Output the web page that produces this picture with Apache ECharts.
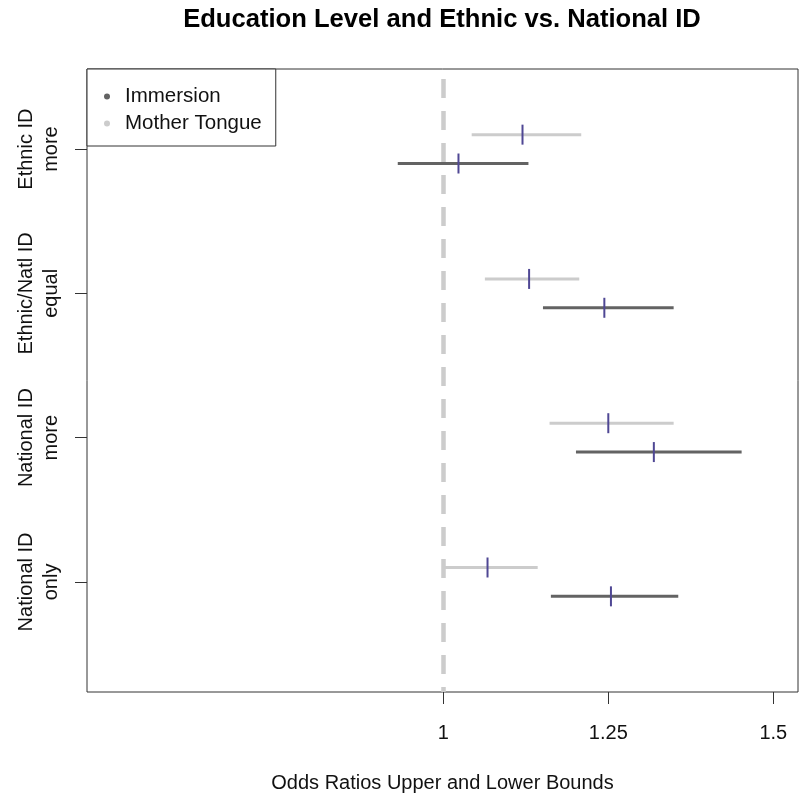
<!DOCTYPE html>
<html>
<head>
<meta charset="utf-8">
<script src="https://cdn.jsdelivr.net/npm/echarts@6/dist/echarts.min.js"></script>
<style>
html,body{margin:0;padding:0;background:#fff;}
#chart{width:801px;height:804px;}
</style>
</head>
<body>
<div id="chart"></div>
<script>
// Category labels (bottom to top, at y positions 1..4)
const categories = ["National ID\nonly", "National ID\nmore", "Ethnic/Natl ID\nequal", "Ethnic ID\nmore"];
const categoryPos = [1, 2, 3, 4];

// Immersion: lower bound, estimate, upper bound
const immLow  = [1.163, 1.201, 1.151, 0.931];
const immEst  = [1.254, 1.319, 1.244, 1.023];
const immHigh = [1.356, 1.452, 1.349, 1.129];

// Mother Tongue: lower bound, estimate, upper bound
const mtLow  = [1.001, 1.161, 1.063, 1.043];
const mtEst  = [1.067, 1.250, 1.130, 1.120];
const mtHigh = [1.143, 1.349, 1.206, 1.209];

const xTicks = [1, 1.25, 1.5];
const refValue = 1;

const FONT = "'Liberation Sans', Arial, sans-serif";
const IMM_COLOR = '#636363';
const MT_COLOR = '#cccccc';
const EST_COLOR = '#4f4794';

function rows(lo, est, hi) {
  return categoryPos.map((p, i) => [p, lo[i], est[i], hi[i]]);
}

function makeRender(offset, color) {
  return function (params, api) {
    const y = api.value(0) + offset;
    const a = api.coord([api.value(1), y]);
    const m = api.coord([api.value(2), y]);
    const b = api.coord([api.value(3), y]);
    return {
      type: 'group',
      children: [
        { type: 'line', shape: { x1: a[0], y1: a[1], x2: b[0], y2: b[1] },
          style: { stroke: color, lineWidth: 3 } },
        { type: 'line', shape: { x1: m[0], y1: m[1] - 10, x2: m[0], y2: m[1] + 10 },
          style: { stroke: EST_COLOR, lineWidth: 2 } }
      ]
    };
  };
}

const chart = echarts.init(document.getElementById('chart'), null, { renderer: 'canvas' });
chart.setOption({
  animation: false,
  backgroundColor: '#ffffff',
  title: {
    text: 'Education Level and Ethnic vs. National ID',
    left: 437, top: 2, textAlign: 'center',
    textStyle: { fontFamily: FONT, fontSize: 25.6, fontWeight: 'bold', color: '#000' }
  },
  legend: {
    orient: 'vertical', left: 87, top: 69,
    padding: [17, 14, 12, 17], itemGap: 6,
    itemWidth: 26, itemHeight: 6,
    borderColor: '#333', borderWidth: 1, borderRadius: 0,
    backgroundColor: '#fff',
    textStyle: { fontFamily: FONT, fontSize: 20.5, color: '#111' },
    data: [{ name: 'Immersion', icon: 'circle' }, { name: 'Mother Tongue', icon: 'circle' }]
  },
  grid: {
    left: 87, right: 3, top: 69, bottom: 112,
    show: true, borderColor: '#333', borderWidth: 1, backgroundColor: 'transparent'
  },
  xAxis: {
    type: 'value', min: 0.46015, max: 1.53742,
    splitLine: { show: false },
    axisLine: { show: false },
    axisTick: { show: true, length: 12, customValues: xTicks, lineStyle: { color: '#333' } },
    axisLabel: { customValues: xTicks, margin: 31, fontFamily: FONT, fontSize: 20, color: '#111',
      formatter: v => String(v) },
    name: 'Odds Ratios Upper and Lower Bounds',
    nameLocation: 'middle', nameGap: 91,
    nameTextStyle: { fontFamily: FONT, fontSize: 20, color: '#111', verticalAlign: 'middle' }
  },
  yAxis: {
    type: 'value', min: 0.237, max: 4.555,
    splitLine: { show: false },
    axisLine: { show: false },
    axisTick: { show: true, length: 12, customValues: categoryPos, lineStyle: { color: '#333' } },
    axisLabel: {
      customValues: categoryPos, rotate: 90, margin: 48,
      align: 'center', verticalAlign: 'middle', lineHeight: 25,
      fontFamily: FONT, fontSize: 20, color: '#111',
      formatter: v => categories[categoryPos.indexOf(Math.round(v))] || ''
    }
  },
  series: [
    {
      name: 'ref', type: 'line', data: [], silent: true,
      markLine: {
        silent: true, symbol: 'none', label: { show: false },
        lineStyle: { color: '#cccccc', width: 4.5, type: [19, 13], dashOffset: 14, cap: 'butt' },
        data: [{ xAxis: refValue }]
      }
    },
    {
      name: 'Mother Tongue', type: 'custom',
      itemStyle: { color: MT_COLOR },
      encode: { x: [1, 2, 3], y: 0 },
      renderItem: makeRender(0.1, MT_COLOR),
      data: rows(mtLow, mtEst, mtHigh)
    },
    {
      name: 'Immersion', type: 'custom',
      itemStyle: { color: IMM_COLOR },
      encode: { x: [1, 2, 3], y: 0 },
      renderItem: makeRender(-0.1, IMM_COLOR),
      data: rows(immLow, immEst, immHigh)
    }
  ]
});
</script>
</body>
</html>
